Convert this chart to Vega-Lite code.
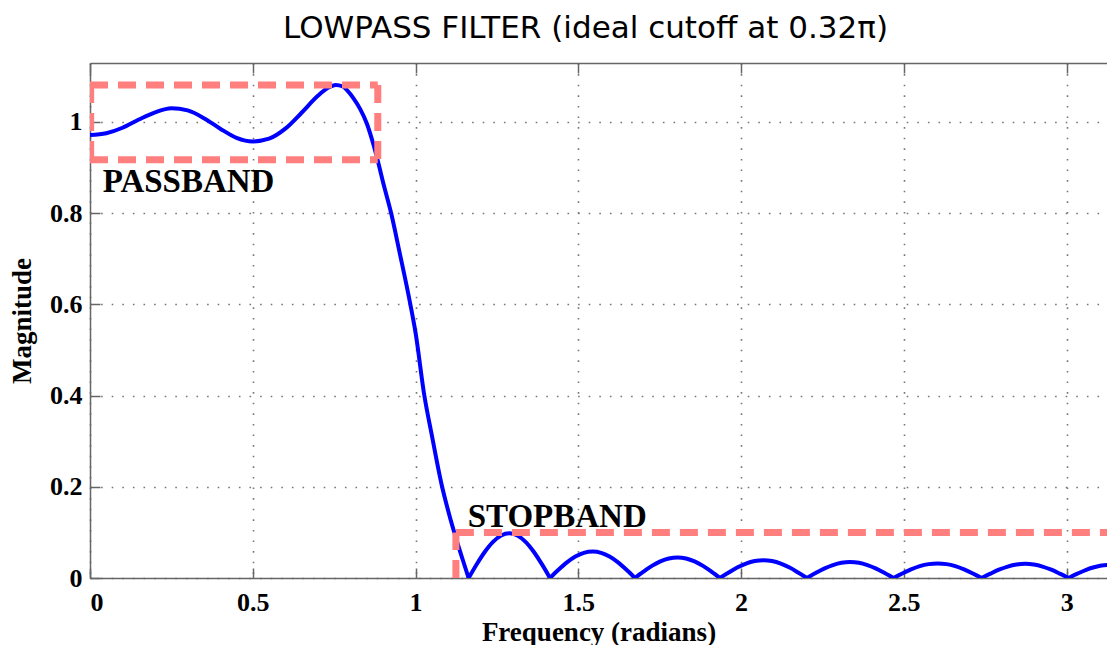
{
  "$schema": "https://vega.github.io/schema/vega-lite/v6.json",
  "autosize": "none",
  "width": 1017,
  "height": 515,
  "padding": {"left": 90, "top": 63, "right": 0, "bottom": 67},
  "background": "white",
  "view": {"stroke": null},
  "title": {
    "text": "LOWPASS FILTER (ideal cutoff at 0.32π)",
    "font": "DejaVu Sans",
    "fontSize": 31,
    "fontWeight": "normal",
    "color": "black",
    "anchor": "middle",
    "dx": -13,
    "offset": 17
  },
  "config": {
    "axis": {
      "labelFont": "Liberation Serif",
      "labelFontWeight": "bold",
      "labelFontSize": 26,
      "labelColor": "black",
      "titleFont": "Liberation Serif",
      "titleFontWeight": "bold",
      "titleFontSize": 27,
      "titleColor": "black",
      "domainColor": "#666666",
      "domainWidth": 1.5,
      "tickColor": "#666666",
      "tickWidth": 1.5,
      "gridColor": "#777777",
      "gridWidth": 1.6,
      "gridDash": [1.6, 9],
      "gridOpacity": 1
    }
  },
  "datasets": {
    "response": [
      {"seg": 0, "w": 0.0, "mag": 0.971}, {"seg": 0, "w": 0.05, "mag": 0.975}, {"seg": 0, "w": 0.1, "mag": 0.987}, {"seg": 0, "w": 0.15, "mag": 1.005},
      {"seg": 0, "w": 0.2, "mag": 1.021}, {"seg": 0, "w": 0.25, "mag": 1.03}, {"seg": 0, "w": 0.3, "mag": 1.025}, {"seg": 0, "w": 0.35, "mag": 1.008},
      {"seg": 0, "w": 0.4, "mag": 0.985}, {"seg": 0, "w": 0.45, "mag": 0.965}, {"seg": 0, "w": 0.5, "mag": 0.957}, {"seg": 0, "w": 0.55, "mag": 0.963},
      {"seg": 0, "w": 0.6, "mag": 0.985}, {"seg": 0, "w": 0.65, "mag": 1.02}, {"seg": 0, "w": 0.7, "mag": 1.057}, {"seg": 0, "w": 0.73, "mag": 1.074},
      {"seg": 0, "w": 0.755, "mag": 1.081}, {"seg": 0, "w": 0.775, "mag": 1.078}, {"seg": 0, "w": 0.79, "mag": 1.069}, {"seg": 0, "w": 0.81, "mag": 1.051},
      {"seg": 0, "w": 0.83, "mag": 1.028}, {"seg": 0, "w": 0.85, "mag": 0.997}, {"seg": 0, "w": 0.87, "mag": 0.952}, {"seg": 0, "w": 0.885, "mag": 0.912},
      {"seg": 0, "w": 0.9, "mag": 0.868}, {"seg": 0, "w": 0.925, "mag": 0.8}, {"seg": 0, "w": 0.95, "mag": 0.717}, {"seg": 0, "w": 0.984, "mag": 0.6},
      {"seg": 0, "w": 1.0, "mag": 0.538}, {"seg": 0, "w": 1.027, "mag": 0.4}, {"seg": 0, "w": 1.05, "mag": 0.313}, {"seg": 0, "w": 1.08, "mag": 0.205},
      {"seg": 0, "w": 1.1, "mag": 0.148}, {"seg": 0, "w": 1.126, "mag": 0.083}, {"seg": 0, "w": 1.145, "mag": 0.04}, {"seg": 0, "w": 1.163, "mag": 0.0},
      {"seg": 1, "w": 1.163, "mag": 0.0},
      {"seg": 1, "w": 1.188, "mag": 0.0303}, {"seg": 1, "w": 1.213, "mag": 0.0576}, {"seg": 1, "w": 1.238, "mag": 0.0793}, {"seg": 1, "w": 1.263, "mag": 0.0932},
      {"seg": 1, "w": 1.288, "mag": 0.098}, {"seg": 1, "w": 1.313, "mag": 0.0932}, {"seg": 1, "w": 1.338, "mag": 0.0793}, {"seg": 1, "w": 1.363, "mag": 0.0576},
      {"seg": 1, "w": 1.388, "mag": 0.0303}, {"seg": 1, "w": 1.413, "mag": 0.0},
      {"seg": 2, "w": 1.413, "mag": 0.0},
      {"seg": 2, "w": 1.439, "mag": 0.0179}, {"seg": 2, "w": 1.465, "mag": 0.0341}, {"seg": 2, "w": 1.491, "mag": 0.0469}, {"seg": 2, "w": 1.517, "mag": 0.0552},
      {"seg": 2, "w": 1.544, "mag": 0.058}, {"seg": 2, "w": 1.57, "mag": 0.0552}, {"seg": 2, "w": 1.596, "mag": 0.0469}, {"seg": 2, "w": 1.622, "mag": 0.0341},
      {"seg": 2, "w": 1.648, "mag": 0.0179}, {"seg": 2, "w": 1.674, "mag": 0.0},
      {"seg": 3, "w": 1.674, "mag": 0.0},
      {"seg": 3, "w": 1.7, "mag": 0.0139}, {"seg": 3, "w": 1.726, "mag": 0.0265}, {"seg": 3, "w": 1.752, "mag": 0.0364}, {"seg": 3, "w": 1.778, "mag": 0.0428},
      {"seg": 3, "w": 1.805, "mag": 0.045}, {"seg": 3, "w": 1.831, "mag": 0.0428}, {"seg": 3, "w": 1.857, "mag": 0.0364}, {"seg": 3, "w": 1.883, "mag": 0.0265},
      {"seg": 3, "w": 1.909, "mag": 0.0139}, {"seg": 3, "w": 1.935, "mag": 0.0},
      {"seg": 4, "w": 1.935, "mag": 0.0},
      {"seg": 4, "w": 1.962, "mag": 0.0121}, {"seg": 4, "w": 1.988, "mag": 0.0229}, {"seg": 4, "w": 2.015, "mag": 0.0316}, {"seg": 4, "w": 2.042, "mag": 0.0371},
      {"seg": 4, "w": 2.069, "mag": 0.039}, {"seg": 4, "w": 2.095, "mag": 0.0371}, {"seg": 4, "w": 2.122, "mag": 0.0316}, {"seg": 4, "w": 2.149, "mag": 0.0229},
      {"seg": 4, "w": 2.175, "mag": 0.0121}, {"seg": 4, "w": 2.202, "mag": 0.0},
      {"seg": 5, "w": 2.202, "mag": 0.0},
      {"seg": 5, "w": 2.229, "mag": 0.0108}, {"seg": 5, "w": 2.255, "mag": 0.0206}, {"seg": 5, "w": 2.282, "mag": 0.0283}, {"seg": 5, "w": 2.308, "mag": 0.0333},
      {"seg": 5, "w": 2.335, "mag": 0.035}, {"seg": 5, "w": 2.362, "mag": 0.0333}, {"seg": 5, "w": 2.388, "mag": 0.0283}, {"seg": 5, "w": 2.415, "mag": 0.0206},
      {"seg": 5, "w": 2.441, "mag": 0.0108}, {"seg": 5, "w": 2.468, "mag": 0.0},
      {"seg": 6, "w": 2.468, "mag": 0.0},
      {"seg": 6, "w": 2.495, "mag": 0.0099}, {"seg": 6, "w": 2.522, "mag": 0.0188}, {"seg": 6, "w": 2.549, "mag": 0.0259}, {"seg": 6, "w": 2.576, "mag": 0.0304},
      {"seg": 6, "w": 2.604, "mag": 0.032}, {"seg": 6, "w": 2.631, "mag": 0.0304}, {"seg": 6, "w": 2.658, "mag": 0.0259}, {"seg": 6, "w": 2.685, "mag": 0.0188},
      {"seg": 6, "w": 2.712, "mag": 0.0099}, {"seg": 6, "w": 2.739, "mag": 0.0},
      {"seg": 7, "w": 2.739, "mag": 0.0},
      {"seg": 7, "w": 2.766, "mag": 0.0096}, {"seg": 7, "w": 2.792, "mag": 0.0182}, {"seg": 7, "w": 2.819, "mag": 0.0251}, {"seg": 7, "w": 2.846, "mag": 0.0295},
      {"seg": 7, "w": 2.873, "mag": 0.031}, {"seg": 7, "w": 2.899, "mag": 0.0295}, {"seg": 7, "w": 2.926, "mag": 0.0251}, {"seg": 7, "w": 2.953, "mag": 0.0182},
      {"seg": 7, "w": 2.979, "mag": 0.0096}, {"seg": 7, "w": 3.006, "mag": 0.0},
      {"seg": 8, "w": 3.006, "mag": 0.0},
      {"seg": 8, "w": 3.033, "mag": 0.0095}, {"seg": 8, "w": 3.06, "mag": 0.018}, {"seg": 8, "w": 3.087, "mag": 0.024}, {"seg": 8, "w": 3.114, "mag": 0.028},
      {"seg": 8, "w": 3.1416, "mag": 0.029}
    ],
    "bands": [
      {"band": "passband", "x": 0.0, "x2": 0.884, "y": 1.081, "y2": 1.081},
      {"band": "passband", "x": 0.0, "x2": 0.884, "y": 0.917, "y2": 0.917},
      {"band": "passband", "x": 0.884, "x2": 0.884, "y": 1.081, "y2": 0.917},
      {"band": "passband", "x": 0.002, "x2": 0.002, "y": 1.081, "y2": 0.917},
      {"band": "stopband", "x": 1.124, "x2": 1.124, "y": 0.0, "y2": 0.1},
      {"band": "stopband", "x": 1.124, "x2": 3.1416, "y": 0.1, "y2": 0.1}
    ],
    "labels": [
      {"x": 0.039, "y": 0.847, "label": "PASSBAND"},
      {"x": 1.16, "y": 0.1125, "label": "STOPBAND"}
    ]
  },
  "layer": [
    {
      "data": {"name": "response"},
      "mark": {"type": "line", "color": "#0000FF", "strokeWidth": 4, "clip": true, "interpolate": "monotone", "strokeCap": "round"},
      "encoding": {
        "detail": {"field": "seg", "type": "nominal"},
        "x": {
          "field": "w", "type": "quantitative",
          "scale": {"domain": [0, 3.124], "nice": false, "zero": false},
          "axis": {
            "orient": "bottom",
            "values": [0, 0.5, 1, 1.5, 2, 2.5, 3],
            "format": "~g",
            "tickSize": -10,
            "labelPadding": 21,
            "grid": true,
            "title": "Frequency (radians)",
            "titleY": 62,
            "titleBaseline": "alphabetic"
          }
        },
        "y": {
          "field": "mag", "type": "quantitative",
          "scale": {"domain": [0, 1.129], "nice": false},
          "axis": {
            "orient": "left",
            "values": [0, 0.2, 0.4, 0.6, 0.8, 1],
            "format": "~g",
            "tickSize": -10,
            "labelPadding": 18,
            "grid": true,
            "title": "Magnitude",
            "titlePadding": 13
          }
        }
      }
    },
    {
      "data": {"name": "bands"},
      "mark": {"type": "rule", "color": "#FF7F7F", "strokeWidth": 7, "strokeDash": [18, 10], "clip": true},
      "encoding": {
        "x": {
          "field": "x", "type": "quantitative",
          "axis": {"orient": "top", "values": [0, 0.5, 1, 1.5, 2, 2.5, 3], "labels": false, "title": null, "grid": false, "tickSize": -10}
        },
        "x2": {"field": "x2"},
        "y": {"field": "y", "type": "quantitative", "axis": null},
        "y2": {"field": "y2"}
      }
    },
    {
      "data": {"name": "labels"},
      "mark": {"type": "text", "font": "Liberation Serif", "fontWeight": "bold", "fontSize": 33, "align": "left", "baseline": "alphabetic", "color": "black"},
      "encoding": {
        "x": {"field": "x", "type": "quantitative", "axis": null},
        "y": {"field": "y", "type": "quantitative", "axis": null},
        "text": {"field": "label"}
      }
    }
  ],
  "resolve": {"axis": {"x": "independent", "y": "independent"}}
}
